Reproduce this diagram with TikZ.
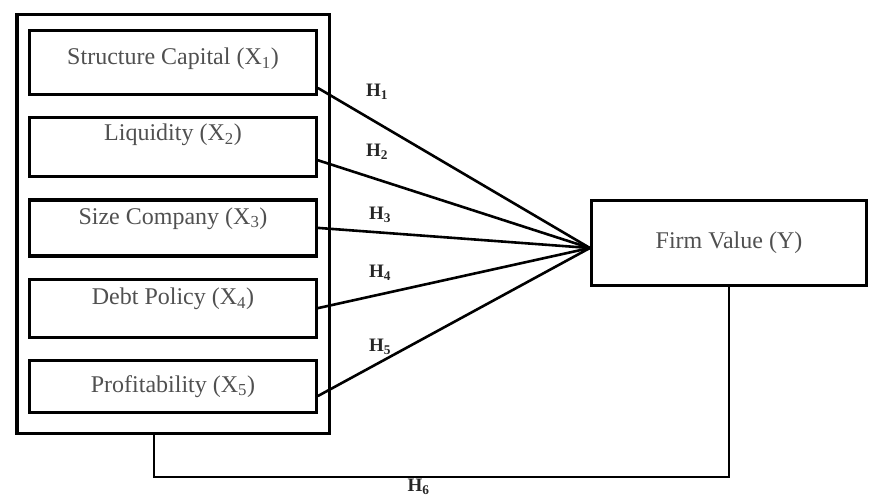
\documentclass[tikz,border=0pt]{standalone}
\usepackage{fontspec}
\setmainfont{Liberation Serif}
\usepackage{xcolor}
\definecolor{labelgray}{HTML}{505050}
\usetikzlibrary{positioning,fit}

\begin{document}
\begin{tikzpicture}[
        x=1pt, y=-1pt,
        node distance=20pt,
        varbox/.style={rectangle, draw=black, line width=3.2pt, minimum width=287pt, align=center, text=labelgray, font=\fontsize{24}{28}\selectfont},
        hyp/.style={font=\bfseries\fontsize{19}{21}\selectfont, text=black!85},
        link/.style={line width=2.6pt, line cap=round}
    ]
    \useasboundingbox (0,0) rectangle (876,499);
    \node[varbox, minimum height=64pt, text depth=12pt] (b1) at (173,62.5) {Structure Capital (X\textsubscript{1})};
    \node[varbox, minimum height=59pt, text depth=30pt, below=of b1] (b2) {Liquidity (X\textsubscript{2})};
    \node[varbox, minimum height=56pt, text depth=24pt, below=of b2] (b3) {Size Company (X\textsubscript{3})};
    \node[varbox, minimum height=58pt, text depth=24pt, below=of b3] (b4) {Debt Policy (X\textsubscript{4})};
    \node[varbox, minimum height=52pt, below=of b4] (b5) {Profitability (X\textsubscript{5})};
    \coordinate (b5low) at ([yshift=-5pt]b5.south);
    \node[draw, line width=3.2pt, fit=(b1)(b5low), inner xsep=11pt, inner ysep=14.5pt] (outer) {};
    \node[varbox, minimum width=275pt, minimum height=85pt] (firm) at (729,243) {Firm Value (Y)};

    \draw[link] ([yshift=8pt]b1.south east) -- ([yshift=-5pt]firm.west);
    \draw[link] ([yshift=18pt]b2.south east) -- ([yshift=-5pt]firm.west);
    \draw[link] (b3.east) -- ([yshift=-5pt]firm.west);
    \draw[link] (b4.east) -- ([yshift=-5pt]firm.west);
    \draw[link] ([yshift=18pt]b5.south east) -- ([yshift=-5pt]firm.west);
    \draw[link, line cap=butt] ([xshift=-19pt]outer.south) -- ++(0,-42pt) -| node[hyp, pos=.23, below, inner sep=1pt] (h6) {H\textsubscript{6}} (firm.south);

    \node[hyp] (h1) at (377,92) {H\textsubscript{1}};
    \node[hyp] (h2) at (377,152) {H\textsubscript{2}};
    \node[hyp] (h3) at (380,215) {H\textsubscript{3}};
    \node[hyp] (h4) at (380,273) {H\textsubscript{4}};
    \node[hyp] (h5) at (380,347) {H\textsubscript{5}};
\end{tikzpicture}
\end{document}
